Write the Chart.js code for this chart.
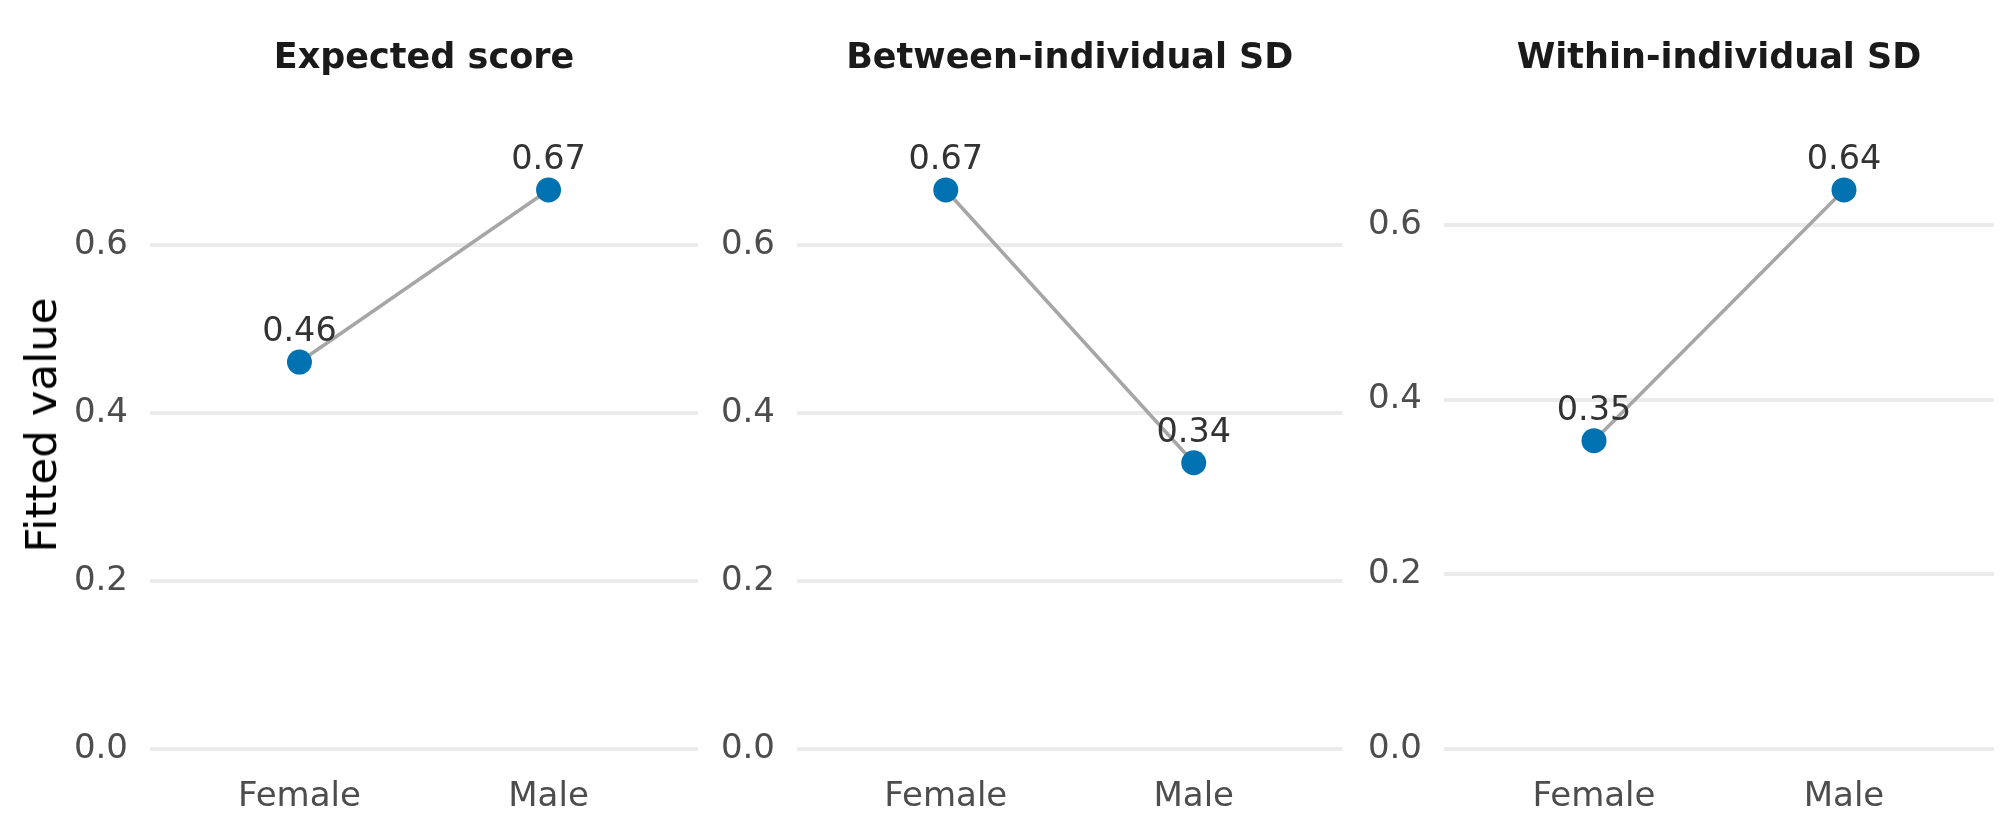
<!DOCTYPE html>
<html>
<head>
<meta charset="utf-8">
<script src="https://cdn.jsdelivr.net/npm/chart.js@4.4.1/dist/chart.umd.min.js"></script>
<style>
  html, body { margin: 0; padding: 0; background: #fff; }
  #wrap { position: relative; width: 2016px; height: 835px; overflow: hidden; }
  canvas { position: absolute; top: 0; }
  #ylab {
    position: absolute; left: 41px; top: 425px;
    transform: translate(-50%, -50%) rotate(-90deg);
    font: 43.5px "DejaVu Sans"; color: #000; white-space: nowrap;
  }
</style>
</head>
<body>
<div id="wrap">
  <canvas id="c1" width="720" height="835" style="left:0px"></canvas>
  <canvas id="c2" width="635" height="835" style="left:720px"></canvas>
  <canvas id="c3" width="661" height="835" style="left:1355px"></canvas>
  <div id="ylab">Fitted value</div>
</div>
<script>
// ---------- data ----------
const categories = ["Female", "Male"];
const panelTitles = ["Expected score", "Between-individual SD", "Within-individual SD"];
const expectedScore = [0.461, 0.666];
const betweenSD = [0.666, 0.341];
const withinSD = [0.353, 0.640];
const yTickValues = [0, 0.2, 0.4, 0.6];

// ---------- styling ----------
const FONT = '"DejaVu Sans", sans-serif';
const POINT_COLOR = "#0072B2";
const LINE_COLOR = "#A6A6A6";
const GRID_COLOR = "#EBEBEB";
const TICK_COLOR = "#4D4D4D";

Chart.defaults.font.family = FONT;

// value labels above each point
const valueLabels = {
    id: "valueLabels",
    afterDatasetsDraw(chart) {
        const ctx = chart.ctx;
        const meta = chart.getDatasetMeta(0);
        const data = chart.data.datasets[0].data;
        ctx.save();
        ctx.font = "33.5px " + FONT;
        ctx.fillStyle = "#333333";
        ctx.textAlign = "center";
        ctx.textBaseline = "alphabetic";
        meta.data.forEach((pt, i) => {
            ctx.fillText(data[i].y.toFixed(2), pt.x, pt.y - 21);
        });
        ctx.restore();
    },
};

function makePanel(canvasId, title, values, yAxisWidth, padRight) {
    const maxV = Math.max(...values);
    // ggplot-style 5% expansion, limits include 0
    const yMin = -0.05 * maxV;
    const yMax = 1.05 * maxV;

    return new Chart(document.getElementById(canvasId), {
        type: "line",
        data: {
            datasets: [{
                data: values.map((v, i) => ({ x: i + 1, y: v })),
                borderColor: LINE_COLOR,
                borderWidth: 3.5,
                pointRadius: 12.5,
                pointHoverRadius: 12.5,
                pointBackgroundColor: POINT_COLOR,
                pointBorderWidth: 0,
                tension: 0,
                clip: false,
            }],
        },
        options: {
            responsive: false,
            animation: false,
            events: [],
            layout: { padding: { left: 0, right: padRight, top: 0, bottom: 0 } },
            plugins: {
                legend: { display: false },
                tooltip: { enabled: false },
                title: {
                    display: true,
                    text: title,
                    fullSize: false,
                    color: "#1A1A1A",
                    font: { size: 35, weight: "bold", family: FONT },
                    padding: { top: 38, bottom: 82 },
                },
            },
            scales: {
                x: {
                    type: "linear",
                    min: 0.4,
                    max: 2.6,
                    grid: { display: false, drawTicks: false },
                    border: { display: false },
                    afterBuildTicks: (scale) => {
                        scale.ticks = categories.map((c, i) => ({ value: i + 1 }));
                    },
                    afterFit: (scale) => { scale.height = 58; },
                    ticks: {
                        color: TICK_COLOR,
                        font: { size: 34 },
                        padding: 0,
                        autoSkip: false,
                        maxRotation: 0,
                        callback: (v) => categories[Math.round(v) - 1],
                    },
                },
                y: {
                    min: yMin,
                    max: yMax,
                    grid: { color: GRID_COLOR, lineWidth: 4, drawTicks: false },
                    border: { display: false },
                    afterBuildTicks: (scale) => {
                        scale.ticks = yTickValues.filter((v) => v <= yMax).map((v) => ({ value: v }));
                    },
                    afterFit: (scale) => { scale.width = yAxisWidth; },
                    ticks: {
                        color: TICK_COLOR,
                        font: { size: 34 },
                        padding: 22,
                        callback: (v) => v.toFixed(1),
                    },
                },
            },
        },
        plugins: [valueLabels],
    });
}

makePanel("c1", panelTitles[0], expectedScore, 150, 22);
makePanel("c2", panelTitles[1], betweenSD, 77, 9);
makePanel("c3", panelTitles[2], withinSD, 89, 22);
</script>
</body>
</html>
